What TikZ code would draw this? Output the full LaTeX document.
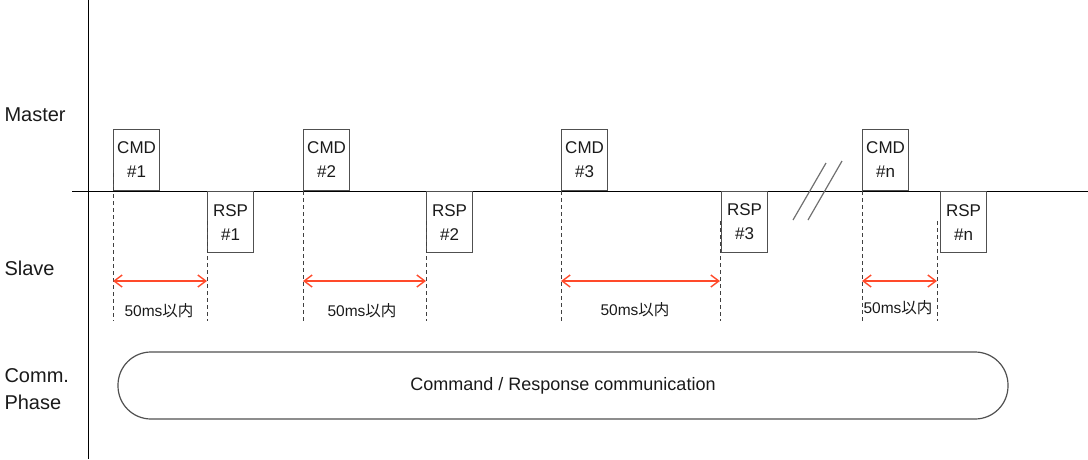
\documentclass[tikz,border=0pt]{standalone}
\usepackage{fontspec}
\setmainfont{Liberation Sans}
\newfontfamily\cjk{Noto Sans CJK JP}
\usetikzlibrary{arrows.meta}
\definecolor{ink}{HTML}{1A1A1A}
\definecolor{boxline}{HTML}{505050}
\definecolor{dashgray}{HTML}{404040}
\definecolor{limitred}{HTML}{FF4A2A}
\definecolor{breakgray}{HTML}{707070}

\begin{document}
\begin{tikzpicture}[x=1pt,y=-1pt,
  frame/.style={draw=boxline, line width=1.2pt, minimum width=46pt, minimum height=61pt,
    inner sep=0pt, align=center, text=ink, font=\fontsize{17}{24}\selectfont},
  guide/.style={draw=dashgray, line width=1pt, dash pattern=on 4pt off 3pt},
  limit/.style={draw=limitred, line width=1.4pt,
    {Straight Barb[length=8pt,width=12pt]}-{Straight Barb[length=8pt,width=12pt]}},
  lane/.style={anchor=west, align=left, text=ink, font=\fontsize{20}{27}\selectfont},
  within/.style={text=ink, font=\fontsize{15.5}{18}\selectfont},
  breakmark/.style={draw=breakgray, line width=1.2pt},
  phase/.style={draw=boxline, line width=1.2pt, rounded corners=33pt,
    minimum width=890pt, minimum height=67pt, text=ink, font=\fontsize{18}{22}\selectfont}]

\useasboundingbox (0,0) rectangle (1088,459);

% axes
\draw[black, line width=1pt] (88,0) -- (88,459);
\draw[black, line width=1pt] (72,191) -- (1088,191);

% lane labels
\node[lane] (master) at (1,115) {Master};
\node[lane] (slave)  at (1,268) {Slave};
\node[lane] (comm)   at (1,389) {Comm.\\Phase};

% command / response frames
\node[frame, anchor=south west] (cmd1) at (113,191) {CMD\\\#1};
\node[frame, anchor=north west] (rsp1) at (207,191) {RSP\\\#1};
\node[frame, anchor=south west] (cmd2) at (303,191) {CMD\\\#2};
\node[frame, anchor=north west] (rsp2) at (426,191) {RSP\\\#2};
\node[frame, anchor=south west] (cmd3) at (561,191) {CMD\\\#3};
\node[frame, anchor=north west] (rsp3) at (721,191) {RSP\\\#3};
\node[frame, anchor=south west] (cmdn) at (862,191) {CMD\\\#n};
\node[frame, anchor=north west] (rspn) at (940,191) {RSP\\\#n};

% timing guides
\coordinate (g1a) at (113,173); \coordinate (e1a) at (113,321);
\coordinate (g1b) at (207,221); \coordinate (e1b) at (207,321);
\coordinate (g2a) at (303,191); \coordinate (e2a) at (303,321);
\coordinate (g2b) at (426,221); \coordinate (e2b) at (426,321);
\coordinate (g3a) at (561,191); \coordinate (e3a) at (561,321);
\coordinate (g3b) at (720,221); \coordinate (e3b) at (720,321);
\coordinate (gna) at (862,191); \coordinate (ena) at (862,321);
\coordinate (gnb) at (937,221); \coordinate (enb) at (937,321);
\foreach \i in {1a,1b,2a,2b,3a,3b,na,nb}
  \draw[guide] (g\i) -- (e\i);

% 50 ms limits
\coordinate (a1l) at (113,281); \coordinate (a1r) at (207,281);
\coordinate (a2l) at (303,281); \coordinate (a2r) at (426,281);
\coordinate (a3l) at (561,281); \coordinate (a3r) at (720,281);
\coordinate (anl) at (862,281); \coordinate (anr) at (937,281);
\draw[limit] (a1l) -- (a1r);
\draw[limit] (a2l) -- (a2r);
\draw[limit] (a3l) -- (a3r);
\draw[limit] (anl) -- (anr);

\node[within] (t1) at (159,311) {50ms{\cjk 以内}};
\node[within] (t2) at (362,311) {50ms{\cjk 以内}};
\node[within] (t3) at (635,310) {50ms{\cjk 以内}};
\node[within] (tn) at (898,308) {50ms{\cjk 以内}};

% time break
\draw[breakmark] (793,220) -- (826,163);
\draw[breakmark] (808,220) -- (842,161);

% communication phase
\node[phase] (cp) at (563,385.5) {Command / Response communication};
\end{tikzpicture}
\end{document}
